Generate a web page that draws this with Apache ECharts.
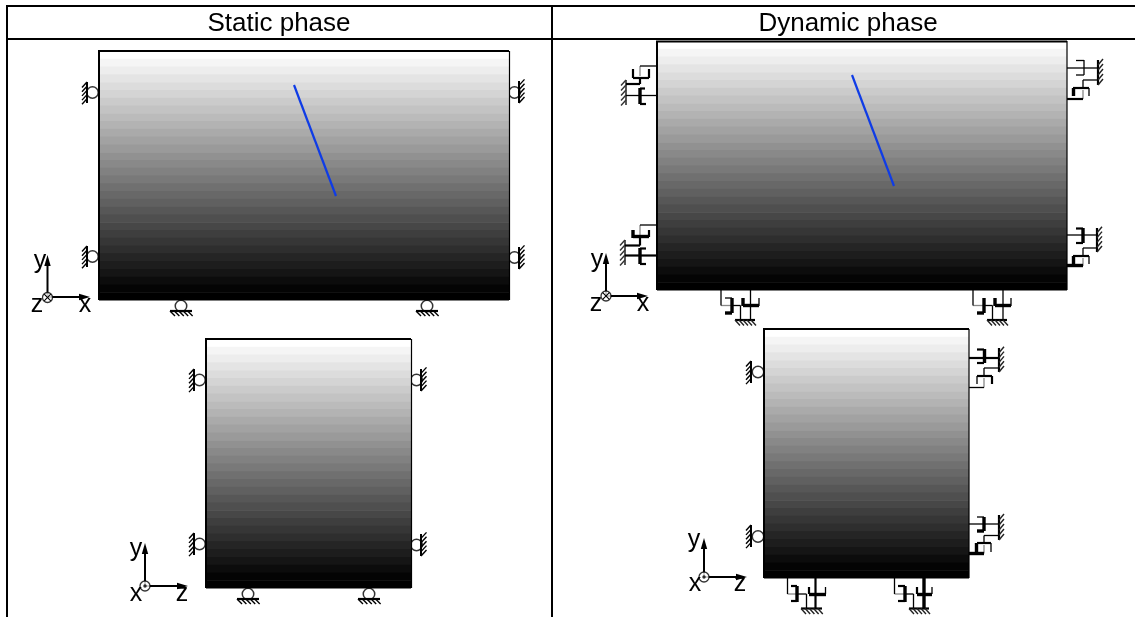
<!DOCTYPE html>
<html>
<head>
<meta charset="utf-8">
<style>html,body{margin:0;padding:0;background:#fff}#c{width:1135px;height:617px}</style>
<script src="https://cdn.jsdelivr.net/npm/echarts@6/dist/echarts.min.js"></script>
</head>
<body>
<div id="c"></div>
<script>
// Diagram coordinates: x across the figure, y down the figure.
const panels = [[99,51,509,300],[657,41,1067,290],[206,339,411,588],[764,329,969,578]];
const bandGrays = [255,245,237,228,220,212,203,195,187,179,170,162,154,145,137,129,121,112,104,96,87,79,71,62,54,46,37,29,21,12,4,0];
const tableLines = [[6,6,1135,6],[6,39,1135,39],[7,5,7,617],[552,39,552,617],[552,5,552,39]];
const panelEdgesBold = [[98,51,509,51],[99,51,99,300],[656,41.5,1067,41.5],[657,41,657,290],[205,339,411,339],[206,339,206,588],[763,329,969,329],[764,329,764,578]];
const panelEdgesThin = [[509.5,51,509.5,300],[1067,41,1067,290],[411.5,339,411.5,588],[969,329,969,578]];
const bluePaths = [[294,85,336,196],[852,75,894,186]];
const rollers = [[92.5,92.5],[92.5,256.5],[514.5,92.5],[514.5,257.5],[181,306],[427,306],[199.5,380],[199.5,544],[416.5,380],[416.5,545],[248,594],[369,594],[758,372],[758,536.5]];
const wallsDownLeft = [[87,82,87,103],[87,246,87,267],[194,369,194,391],[194,533,194,555],[751,361,751,383],[751,525,751,547]];
const wallsUpRight = [[519,81,519,103],[519,247,519,269],[421,369,421,391],[421,534,421,556]];
const groundsThick = [[170,311,192,311],[416,311,438,311],[237,599,259,599],[358,599,380,599]];
const springWallsLeft = [[626,80,626,105],[625,240,625,265]];
const springWallsRight = [[1098,60,1098,85],[1097,228,1097,252],[999,348,999,372],[999,515,999,540]];
const springGrounds = [[735,320,755,320],[987,320,1007,320],[801,608.5,822,608.5],[909,608.5,929,608.5]];
const thinLines = [
  [657,66,640,66],[626,95.5,657,95.5],[657,225,640,225],
  [1067,68,1098,68],[1084,60,1084,75],[1084,60.5,1076,60.5],[1084,75,1076,75],
  [1089,88,1089,96],[1098,80,1083,80],[1083,80,1083,88],
  [1067,235,1097,235],[1089,256,1089,264],[1083,256,1083,248],[1083,248,1097,248],
  [721,290,721,305.5],[740.5,305.5,732,305.5],[740.5,305.5,740.5,320],[750.5,290,750.5,320],
  [759,298,759,306],[725,298,732,298],
  [973,290,973,305.5],[992.5,305.5,984,305.5],[992.5,305.5,992.5,320],[1003,290,1003,320],[1011,298,1011,306],
  [969,387.5,984,387.5],[977,376,977,384],[984,376,984,368],[984,368,999,368],
  [969,524,999,524],[984,535.5,999,535.5],[984,543,984,535.5],[991,543,991,552],[984,517,977,517],
  [787.5,578,787.5,594],[797,594,806.5,594],[806.5,594,806.5,608],[825.5,587,825.5,594],
  [894.5,578,894.5,594],[905,594,913.5,594],[913.5,594,913.5,608],[932,587,932,594]
];
const midLines = [
  [640,78,640,84],[640,84,626,84],[633,69,633,78],[649,69,649,78],[633,78,649,78],
  [645,88.5,640,88.5],[646,104,640,104],
  [625,245.5,640,245.5],[640,237,640,245.5],[649,230,649,237],[625,255.5,657,255.5],[640,248.5,646,248.5],[640,264,646,264],
  [1073,88,1089,88],[1083,99,1067,99],
  [1073,256,1089,256],[1076,228.5,1083,228.5],[1076,243,1083,243],
  [969,358,999,358],[977,349.5,984,349.5],[977,363,984,363],[977,376,992,376],[992,376,992,384],
  [977,543,991,543],[815.5,578,815.5,608],[809,587,809,594],[791,586,797,586],[791,601,797,601],
  [898,586,905,586],[898,601,905,601],[917,587,917,594]
];
const heavyLines = [
  [640,88,640,104],[633,230,633,238],[633,236.5,649,236.5],[640,248,640,264],
  [1073.5,88,1073.5,96],[1073.5,256,1073.5,264],[1083,228,1083,243],[1067,265.5,1083,265.5],
  [984.5,349,984.5,363],[984,517,984,531],[977,531,984,531],[969,553.5,984,553.5],[976.5,543,976.5,552],
  [732,298,732,313],[725,313,732,313],[743,305.5,759,305.5],[743,298,743,306],
  [984,298,984,313],[977,313,984,313],[995,305.5,1011,305.5],[995,298,995,306],
  [797,586,797,602],[809,594.5,826,594.5],[905,586,905,602],[924,578,924,608],[917,594.5,932,594.5]
];
const grayLines = [
  [640,66,640,76],[640,225,640,235],[1083,99,1083,90],[1083,266,1083,258],
  [721,305.5,732,305.5],[973,305.5,984,305.5],[984,387.5,984,378],[984,553.5,984,545],[787.5,594,797,594],[894.5,594,905,594]
];
const axisArrows = [[47.5,297,47.5,255],[47.5,297,90,297],[145,586,145,543],[145,586,188,586],[606,296,606,253],[606,296,648,296],[704,577,704,538],[704,577,747,577]];
const axisCrossed = [[47.5,297.5],[606,296]];
const axisDotted = [[145,586],[704,577]];
const titles = [["Static phase",279,24],["Dynamic phase",848,24]];
const axisNames = [["y",40,261],["x",85,305],["z",37,305],["y",136,549],["x",136,594],["z",182,594],["y",597,260],["x",643,304],["z",596,304],["y",694,540],["x",695,584],["z",740,584]];

function hatches(walls, dx, dy, count) {
  const out = [];
  walls.forEach(w => {
    const span = Math.max(w[3] - w[1], w[2] - w[0]);
    const vertical = w[3] - w[1] > w[2] - w[0];
    for (let i = 0; i < count; i++) {
      const t = (i + (dy > 0 ? 0 : 1)) * span / count;
      const x = vertical ? w[0] : w[0] + t;
      const y = vertical ? w[1] + t : w[1];
      out.push([x, y, x + dx, y + dy]);
    }
  });
  return out;
}

function segmentSeries(data, width, color, z) {
  return {
    type: 'custom', coordinateSystem: 'cartesian2d', silent: true, z: z, data: data,
    encode: { x: [0, 2], y: [1, 3] },
    renderItem: (params, api) => {
      const a = api.coord([api.value(0), api.value(1)]);
      const b = api.coord([api.value(2), api.value(3)]);
      return { type: 'line', shape: { x1: a[0], y1: a[1], x2: b[0], y2: b[1] },
        style: { stroke: color, lineWidth: width, lineCap: 'butt' } };
    }
  };
}
function textSeries(data, size, z) {
  return {
    type: 'custom', coordinateSystem: 'cartesian2d', silent: true, z: z, data: data,
    encode: { x: 1, y: 2 },
    renderItem: (params, api) => {
      const p = api.coord([api.value(1), api.value(2)]);
      return { type: 'text', x: p[0], y: p[1],
        style: { text: data[params.dataIndex][0], fill: '#000', fontSize: size,
          fontFamily: '"Liberation Sans", Arial, sans-serif', align: 'center', verticalAlign: 'middle' } };
    }
  };
}
const bandSeries = {
  type: 'custom', coordinateSystem: 'cartesian2d', silent: true, z: 2, data: panels,
  encode: { x: [0, 2], y: [1, 3] },
  renderItem: (params, api) => {
    const a = api.coord([api.value(0), api.value(1)]);
    const b = api.coord([api.value(2), api.value(3)]);
    const h = (b[1] - a[1]) / bandGrays.length;
    return { type: 'group', children: bandGrays.map((g, i) => ({
      type: 'rect',
      shape: { x: a[0], y: a[1] + i * h, width: b[0] - a[0], height: h + 0.6 },
      style: { fill: 'rgb(' + g + ',' + g + ',' + g + ')' }
    })) };
  }
};
const arrowSeries = {
  type: 'custom', coordinateSystem: 'cartesian2d', silent: true, z: 8, data: axisArrows,
  encode: { x: [0, 2], y: [1, 3] },
  renderItem: (params, api) => {
    const a = api.coord([api.value(0), api.value(1)]);
    const b = api.coord([api.value(2), api.value(3)]);
    const len = Math.hypot(b[0] - a[0], b[1] - a[1]);
    const ux = (b[0] - a[0]) / len, uy = (b[1] - a[1]) / len;
    const bx = b[0] - ux * 11, by = b[1] - uy * 11;
    return { type: 'group', children: [
      { type: 'line', shape: { x1: a[0], y1: a[1], x2: bx, y2: by }, style: { stroke: '#000', lineWidth: 2 } },
      { type: 'polygon', shape: { points: [[b[0], b[1]], [bx - uy * 3.2, by + ux * 3.2], [bx + uy * 3.2, by - ux * 3.2]] }, style: { fill: '#000' } }
    ] };
  }
};
function dotSeries(data, size, itemStyle, z) {
  return { type: 'scatter', silent: true, z: z, data: data, symbol: 'circle', symbolSize: size, itemStyle: itemStyle };
}
const crossMarks = [];
axisCrossed.forEach(p => {
  crossMarks.push([p[0] - 3.3, p[1] - 3.3, p[0] + 3.3, p[1] + 3.3]);
  crossMarks.push([p[0] - 3.3, p[1] + 3.3, p[0] + 3.3, p[1] - 3.3]);
});

const chart = echarts.init(document.getElementById('c'));
chart.setOption({
  animation: false,
  backgroundColor: '#fff',
  grid: { left: 0, right: 0, top: 0, bottom: 0 },
  xAxis: { type: 'value', min: 0, max: 1135, show: false },
  yAxis: { type: 'value', min: 0, max: 617, inverse: true, show: false },
  series: [
    segmentSeries(tableLines, 2, '#000', 1),
    dotSeries(rollers, 11.5, { color: '#fff', borderColor: '#000', borderWidth: 1.5 }, 1),
    bandSeries,
    segmentSeries(panelEdgesBold, 2, '#000', 3),
    segmentSeries(panelEdgesThin, 1.2, '#000', 3),
    segmentSeries(bluePaths, 2.2, '#0f3ce6', 4),
    segmentSeries(wallsDownLeft, 2, '#000', 5),
    segmentSeries(wallsUpRight, 2, '#000', 5),
    segmentSeries(groundsThick, 2.2, '#000', 5),
    segmentSeries(springWallsLeft, 1.5, '#222', 5),
    segmentSeries(springWallsRight, 2.2, '#000', 5),
    segmentSeries(springGrounds, 2.2, '#000', 5),
    segmentSeries(hatches(wallsDownLeft, -5, 5.5, 5), 1.4, '#000', 5),
    segmentSeries(hatches(wallsUpRight, 5.5, -6, 5), 1.4, '#000', 5),
    segmentSeries(hatches(groundsThick, 5, 5, 5), 1.4, '#000', 5),
    segmentSeries(hatches(springWallsLeft, -5, 5.5, 5), 1.4, '#333', 5),
    segmentSeries(hatches(springWallsRight, 5, -6, 5), 1.4, '#222', 5),
    segmentSeries(hatches(springGrounds, 5, 5.5, 5), 1.4, '#222', 5),
    segmentSeries(grayLines, 1.3, '#888', 6),
    segmentSeries(thinLines, 1.3, '#000', 6),
    segmentSeries(midLines, 2.2, '#000', 6),
    segmentSeries(heavyLines, 3.4, '#000', 6),
    arrowSeries,
    dotSeries(axisCrossed.concat(axisDotted), 10, { color: '#fff', borderColor: '#000', borderWidth: 1.3 }, 9),
    segmentSeries(crossMarks, 1.1, '#000', 10),
    dotSeries(axisDotted, 3.5, { color: '#000' }, 10),
    textSeries(titles, 26, 11),
    textSeries(axisNames, 25, 11)
  ]
});
</script>
</body>
</html>
